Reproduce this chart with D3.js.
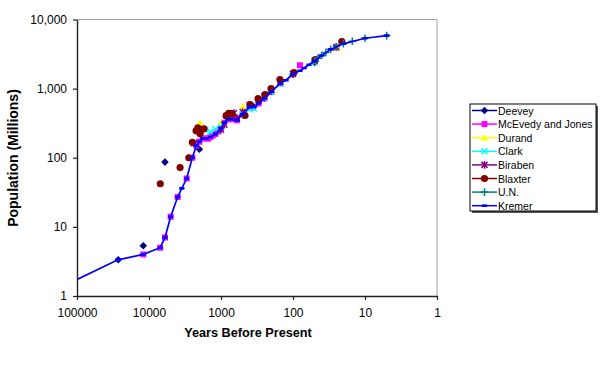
<!DOCTYPE html>
<html>
<head>
<meta charset="utf-8">
<script src="https://cdn.jsdelivr.net/npm/d3@7"></script>
<style>
  body { margin: 0; background: #fff; }
  svg { display: block; }
  text { font-family: Arial, "Liberation Sans", Helvetica, sans-serif; fill: #000; }
</style>
</head>
<body>
<svg id="chart" width="600" height="365"></svg>
<script>
// years before present (present ~ 2000) and population in millions
var deeveyBP   = [26700, 12000, 6000, 2000, 350, 250, 200, 100, 50];
var deeveyPop  = [3.34, 5.32, 86.5, 133, 545, 728, 906, 1610, 2400];

var mcevedyBP  = [12000, 7000, 6000, 5000, 4000, 3000, 2500, 2200, 2000, 1800, 1600, 1500, 1400, 1300, 1200, 1100, 1000, 900, 800, 700, 600, 500, 400, 300, 250, 200, 150, 80, 50, 25];
var mcevedyPop = [4, 5, 7, 14, 27, 50, 100, 150, 170, 190, 190, 190, 200, 210, 220, 240, 265, 320, 360, 360, 350, 425, 545, 610, 720, 900, 1200, 2180, 2500, 3900];

var durandBP   = [1960, 1000, 494, 250, 200, 150, 100, 50, 24];
var durandPop  = [318, 320, 548, 791, 978, 1262, 1650, 2515, 3900];

var clarkBP    = [1990, 1650, 1400, 1200, 1000, 800, 500, 400, 350, 250, 200, 150, 100, 50];
var clarkPop   = [256, 254, 237, 261, 280, 384, 427, 504, 516, 731, 890, 1171, 1668, 2400];

var birabenBP  = [2400, 2000, 1000, 900, 800, 700, 660, 600, 500, 400, 300, 250, 200, 150, 100, 50, 25];
var birabenPop = [162, 255, 254, 301, 400, 431, 443, 374, 460, 579, 679, 770, 954, 1241, 1633, 2527, 4000];

var blaxterBP  = [6970, 3700, 2800, 2500, 2220, 2100, 1950, 1720, 850, 780, 700, 464, 395, 306, 245, 202, 152, 97, 49, 21];
var blaxterPop = [42, 72, 100, 167, 245, 270, 222, 262, 406, 440, 430, 409, 587, 716, 819, 1000, 1350, 1706, 2630, 4800];

var unBP       = [50, 45, 40, 35, 30, 25, 20, 15, 10, 5];
var unPop      = [2520, 2760, 3020, 3340, 3700, 4070, 4450, 4850, 5360, 5850];

var kremerBP   = [300000, 27000, 12000, 7000, 6000, 5000, 4000, 3500, 3000, 2500, 2200, 2000, 1800, 1600, 1400, 1200, 1000, 900, 800, 700, 600, 500, 400, 350, 300, 250, 200, 150, 125, 100, 80, 70, 60, 50, 40, 30, 20, 10, 5];
var kremerPop  = [1, 3.34, 4, 5, 7, 14, 27, 36, 50, 100, 150, 170, 190, 190, 200, 220, 265, 320, 360, 360, 350, 425, 545, 545, 610, 720, 900, 1200, 1325, 1625, 1813, 1987, 2213, 2516, 3019, 3693, 4450, 5360, 5850];

var xTicks = [100000, 10000, 1000, 100, 10, 1];
var yTicks = [1, 10, 100, 1000, 10000];

function zip(bp, pop) { return bp.map(function(d, i){ return {bp: d, pop: pop[i]}; }); }

var series = [
  {name: "Deevey",            data: zip(deeveyBP, deeveyPop),   color: "#000080", marker: "diamond"},
  {name: "McEvedy and Jones", data: zip(mcevedyBP, mcevedyPop), color: "#ff00ff", marker: "square"},
  {name: "Durand",            data: zip(durandBP, durandPop),   color: "#ffff00", marker: "triangle"},
  {name: "Clark",             data: zip(clarkBP, clarkPop),     color: "#00ffff", marker: "x"},
  {name: "Biraben",           data: zip(birabenBP, birabenPop), color: "#800080", marker: "asterisk"},
  {name: "Blaxter",           data: zip(blaxterBP, blaxterPop), color: "#800000", marker: "circle"},
  {name: "U.N.",              data: zip(unBP, unPop),           color: "#008080", marker: "plus"},
  {name: "Kremer",            data: zip(kremerBP, kremerPop),   color: "#0000ff", marker: "dash", line: true}
];

var svg = d3.select("#chart");
var plotL = 77, plotR = 437, plotT = 19.5, plotB = 296;

var x = d3.scaleLog().domain([100000, 1]).range([plotL, plotR]);
var y = d3.scaleLog().domain([1, 10000]).range([plotB, plotT]);

// marker shapes, centred on 0,0
function markerPath(type) {
  switch (type) {
    case "diamond":  return "M0,-3.8L3.8,0L0,3.8L-3.8,0Z";
    case "square":   return "M-3,-3H3V3H-3Z";
    case "triangle": return "M0,-3.8L3.8,2.8L-3.8,2.8Z";
    case "circle":   return d3.symbol(d3.symbolCircle, 40)();
    case "x":        return "M-3,-3L3,3M-3,3L3,-3";
    case "asterisk": return "M-3,-3L3,3M-3,3L3,-3M0,-3.8V3.8";
    case "plus":     return "M-3.8,0H3.8M0,-3.8V3.8";
    case "dash":     return "M-2.6,-1.3H2.6V1.3H-2.6Z";
  }
}
function isStroked(type) { return type == "x" || type == "asterisk" || type == "plus"; }

svg.append("clipPath").attr("id", "plotclip")
  .append("rect").attr("x", plotL).attr("y", plotT)
  .attr("width", plotR - plotL).attr("height", plotB - plotT);

// plot frame (top and right)
svg.append("path")
  .attr("d", "M" + plotL + "," + plotT + "H" + plotR + "V" + plotB)
  .attr("fill", "none").attr("stroke", "#a0a0a0").attr("stroke-width", 1);

var plot = svg.append("g").attr("clip-path", "url(#plotclip)");

var line = d3.line().x(function(d){ return x(d.bp); }).y(function(d){ return y(d.pop); });

series.forEach(function(s) {
  var g = plot.append("g").attr("class", "series");
  if (s.line) {
    g.append("path").datum(s.data)
      .attr("d", line)
      .attr("fill", "none")
      .attr("stroke", s.color)
      .attr("stroke-width", 1.7);
  }
  g.selectAll("path.mark")
    .data(s.data)
    .enter().append("path")
    .attr("class", "mark")
    .attr("transform", function(d){ return "translate(" + x(d.bp) + "," + y(d.pop) + ")"; })
    .attr("d", markerPath(s.marker))
    .attr("fill", isStroked(s.marker) ? "none" : s.color)
    .attr("stroke", isStroked(s.marker) ? s.color : "none")
    .attr("stroke-width", 1.5);
});

// axes
var xAxis = d3.axisBottom(x).tickValues(xTicks).tickFormat(d3.format("d"))
  .tickSize(4).tickSizeOuter(0).tickPadding(8);
var yAxis = d3.axisLeft(y).tickValues(yTicks).tickFormat(d3.format(","))
  .tickSize(4).tickSizeOuter(0).tickPadding(6);

var gx = svg.append("g").attr("transform", "translate(0," + plotB + ")").call(xAxis);
var gy = svg.append("g").attr("transform", "translate(" + plotL + ",0)").call(yAxis);

[gx, gy].forEach(function(g) {
  g.select(".domain").attr("stroke", "#222").attr("stroke-width", 1.4);
  g.selectAll(".tick line").attr("stroke", "#222").attr("stroke-width", 1.2);
  g.selectAll(".tick text").attr("font-size", "12px").attr("font-family", "Arial, 'Liberation Sans', sans-serif").attr("fill", "#000");
});

svg.append("text")
  .attr("x", 248).attr("y", 337)
  .attr("text-anchor", "middle")
  .attr("font-weight", "bold").attr("font-size", "12.7px")
  .text("Years Before Present");

svg.append("text")
  .attr("transform", "translate(18,158) rotate(-90)")
  .attr("text-anchor", "middle")
  .attr("font-weight", "bold").attr("font-size", "14px")
  .text("Population (Millions)");

// legend
var lgX = 470, lgY = 104, lgW = 126, lgH = 107, rowH = 13.6;
svg.append("rect").attr("x", lgX + 2).attr("y", lgY + 2).attr("width", lgW).attr("height", lgH).attr("fill", "#555");
svg.append("rect").attr("x", lgX).attr("y", lgY).attr("width", lgW).attr("height", lgH)
  .attr("fill", "#fff").attr("stroke", "#000").attr("stroke-width", 1);

var legend = svg.selectAll("g.legend-item")
  .data(series)
  .enter().append("g")
  .attr("class", "legend-item")
  .attr("transform", function(d, i){ return "translate(" + lgX + "," + (lgY + 6.5 + i * rowH) + ")"; });

legend.append("line")
  .attr("x1", 2).attr("x2", 27)
  .attr("stroke", function(d){ return d.color; })
  .attr("stroke-width", 1.5);

legend.append("path")
  .attr("transform", "translate(14.5,0)")
  .attr("d", function(d){ return markerPath(d.marker); })
  .attr("fill", function(d){ return isStroked(d.marker) ? "none" : d.color; })
  .attr("stroke", function(d){ return isStroked(d.marker) ? d.color : "none"; })
  .attr("stroke-width", 1.5);

legend.append("text")
  .attr("x", 28).attr("y", 4)
  .attr("font-size", "10.5px")
  .text(function(d){ return d.name; });
</script>
</body>
</html>
